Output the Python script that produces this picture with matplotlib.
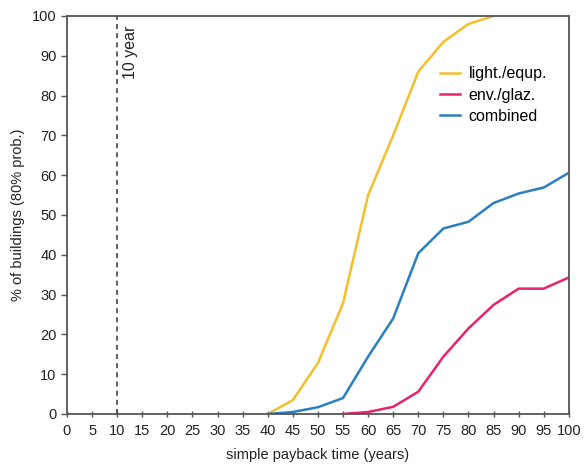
import matplotlib
matplotlib.use("Agg")
import matplotlib.pyplot as plt

plt.rcParams['font.family'] = ['Liberation Sans', 'DejaVu Sans']

x_light = [40, 45, 50, 55, 60, 65, 70, 75, 80, 85]
y_light = [0, 3.5, 12.8, 27.8, 55, 70, 86, 93.5, 98, 100]

x_env = [55, 60, 65, 70, 75, 80, 85, 90, 95, 100]
y_env = [0, 0.5, 1.8, 5.6, 14.4, 21.5, 27.4, 31.5, 31.5, 34.3]

x_comb = [40, 45, 50, 55, 60, 65, 70, 75, 80, 85, 90, 95, 100]
y_comb = [0, 0.5, 1.7, 4.0, 14.4, 24, 40.4, 46.6, 48.3, 53, 55.4, 56.9, 60.6]

xticks = list(range(0, 101, 5))
yticks = list(range(0, 101, 10))

fig = plt.figure(figsize=(5.84, 4.65), dpi=100)
ax = fig.add_axes([0.1147, 0.1097, 0.8593, 0.8559])

ax.plot(x_light, y_light, color='#F5BE2A', lw=1.8, label='light./equp.')
ax.plot(x_env, y_env, color='#E8226E', lw=1.8, label='env./glaz.')
ax.plot(x_comb, y_comb, color='#2A7FC1', lw=1.8, label='combined')

ax.axvline(10, color='#444444', lw=1.2, ls=(0, (3, 2.5)))
ax.text(12.6, 97.5, '10 year', rotation=90, va='top', ha='center', fontsize=11.5, color='#222222')

ax.set_xlim(0, 100)
ax.set_ylim(0, 100)
ax.set_xticks(xticks)
ax.set_yticks(yticks)
ax.tick_params(axis='x', direction='inout', length=5, width=1, colors='#555555', labelcolor='#222222', labelsize=10.5, pad=5)
ax.tick_params(axis='y', direction='out', length=4, width=1, colors='#555555', labelcolor='#222222', labelsize=10.5)
for s in ax.spines.values():
    s.set_color('#555555')
    s.set_linewidth(1.3)

ax.set_xlabel('simple payback time (years)', fontsize=10.5, color='#222222', labelpad=7)
ax.set_ylabel('% of buildings (80% prob.)', fontsize=10.5, color='#222222', labelpad=5)

ax.legend(loc='upper right', bbox_to_anchor=(0.985, 0.91), frameon=False, fontsize=11.5,
          handlelength=1.3, handletextpad=0.5, labelspacing=0.4)

fig.savefig('out.png', dpi=100)
